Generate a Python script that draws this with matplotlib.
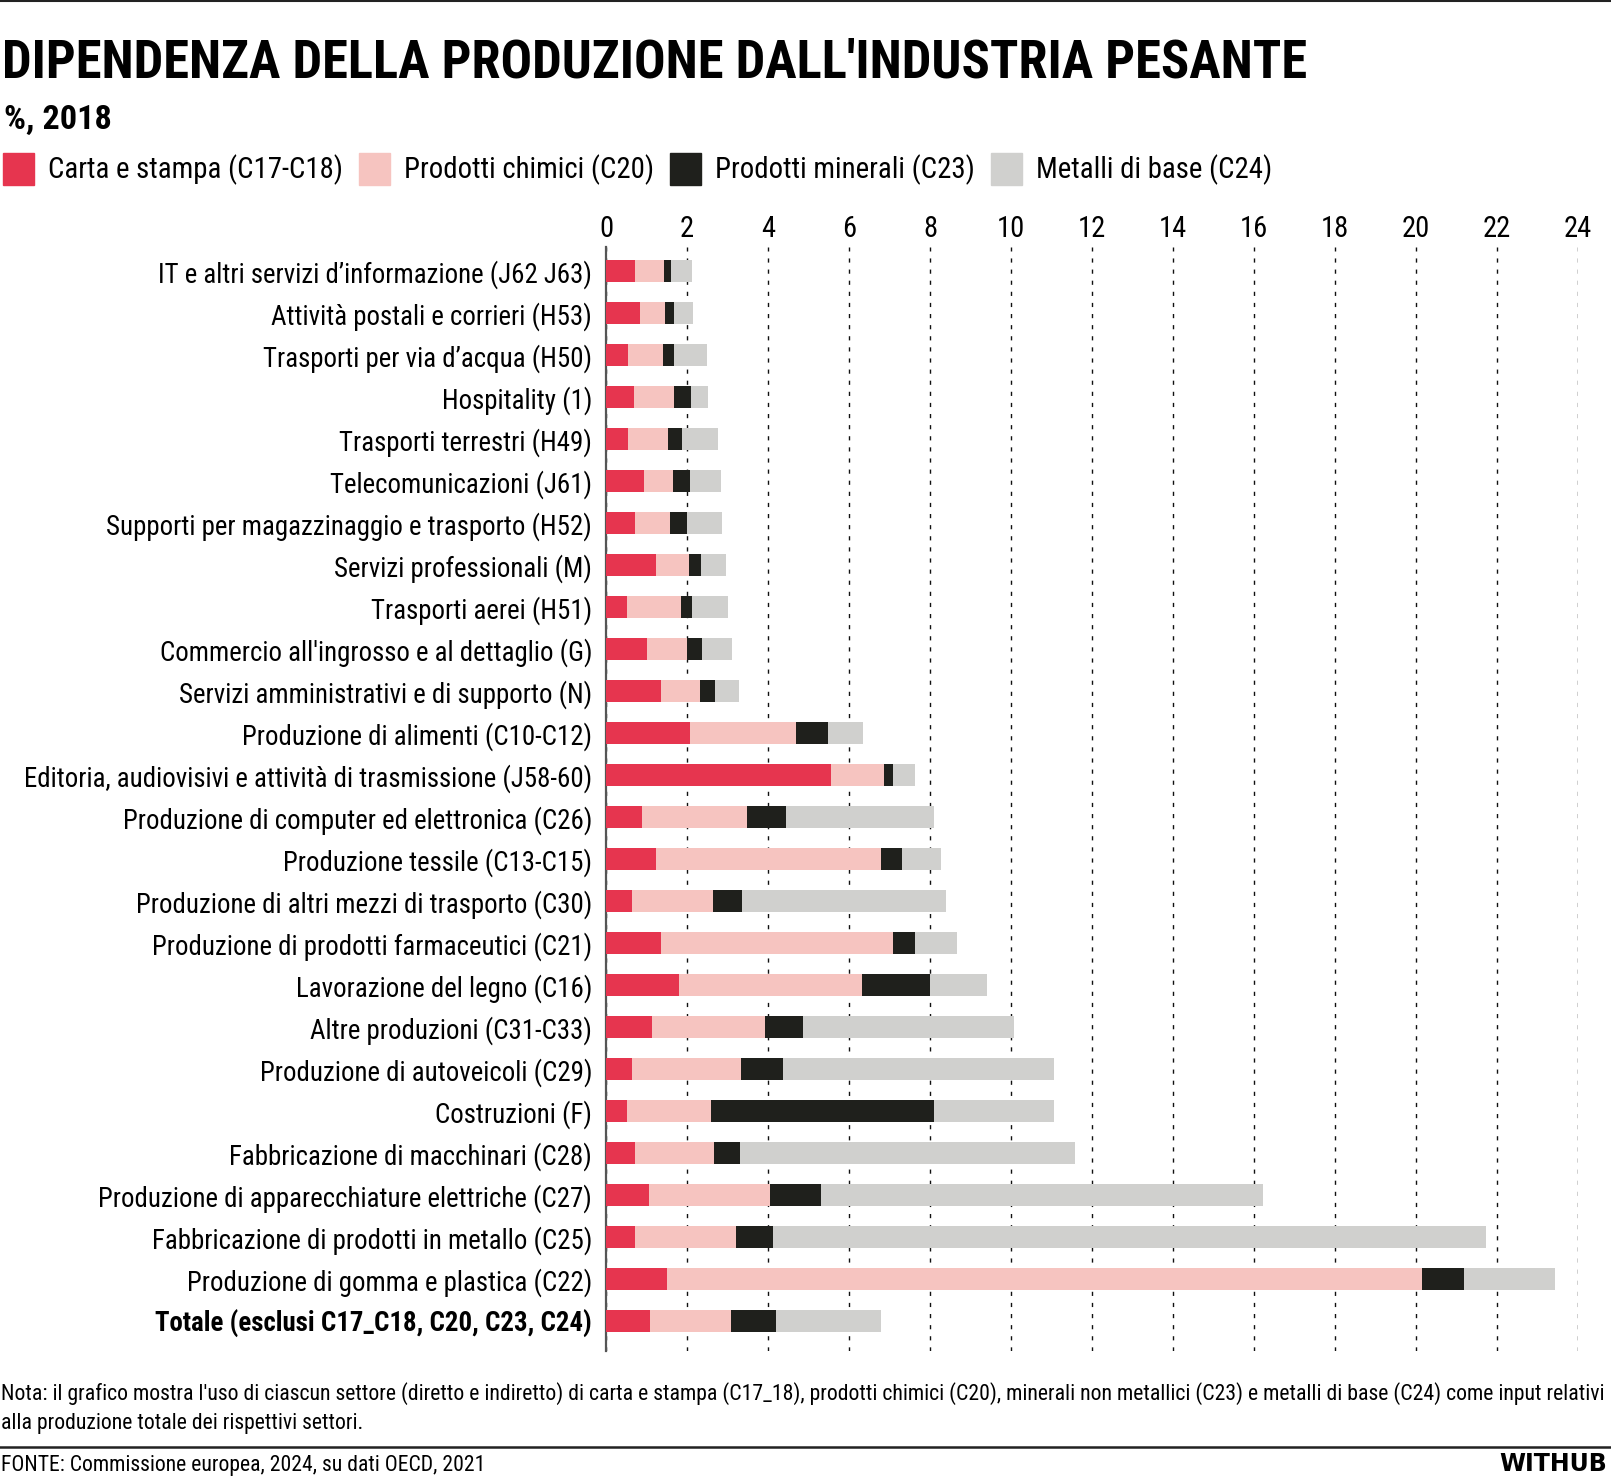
import matplotlib
matplotlib.use("Agg")
import matplotlib.pyplot as plt
from matplotlib import font_manager as fm
from matplotlib.lines import Line2D
from matplotlib.patches import Rectangle
import numpy as np

W, H = 1611, 1478

# dati (% , 2018)
categorie = [
    "IT e altri servizi d\u2019informazione (J62 J63)",
    "Attività postali e corrieri (H53)",
    "Trasporti per via d\u2019acqua (H50)",
    "Hospitality (1)",
    "Trasporti terrestri (H49)",
    "Telecomunicazioni (J61)",
    "Supporti per magazzinaggio e trasporto (H52)",
    "Servizi professionali (M)",
    "Trasporti aerei (H51)",
    "Commercio all'ingrosso e al dettaglio (G)",
    "Servizi amministrativi e di supporto (N)",
    "Produzione di alimenti (C10-C12)",
    "Editoria, audiovisivi e attività di trasmissione (J58-60)",
    "Produzione di computer ed elettronica (C26)",
    "Produzione tessile (C13-C15)",
    "Produzione di altri mezzi di trasporto (C30)",
    "Produzione di prodotti farmaceutici (C21)",
    "Lavorazione del legno (C16)",
    "Altre produzioni (C31-C33)",
    "Produzione di autoveicoli (C29)",
    "Costruzioni (F)",
    "Fabbricazione di macchinari (C28)",
    "Produzione di apparecchiature elettriche (C27)",
    "Fabbricazione di prodotti in metallo (C25)",
    "Produzione di gomma e plastica (C22)",
    "Totale (esclusi C17_C18, C20, C23, C24)",
]
carta = [0.72, 0.83, 0.54, 0.70, 0.54, 0.95, 0.72, 1.23, 0.52, 1.02, 1.37, 2.08, 5.56,
         0.89, 1.23, 0.63, 1.37, 1.81, 1.14, 0.63, 0.53, 0.72, 1.07, 0.72, 1.50, 1.08]
chimici = [0.70, 0.63, 0.87, 0.98, 0.98, 0.70, 0.87, 0.83, 1.32, 0.97, 0.94, 2.61, 1.30,
           2.59, 5.55, 2.00, 5.71, 4.51, 2.79, 2.70, 2.07, 1.94, 2.98, 2.48, 18.65, 2.01]
minerali = [0.19, 0.23, 0.28, 0.41, 0.36, 0.42, 0.40, 0.29, 0.29, 0.39, 0.39, 0.78, 0.22,
            0.97, 0.53, 0.73, 0.56, 1.67, 0.93, 1.04, 5.49, 0.66, 1.25, 0.93, 1.03, 1.11]
metalli = [0.51, 0.47, 0.81, 0.44, 0.89, 0.78, 0.87, 0.62, 0.89, 0.74, 0.59, 0.88, 0.55,
           3.64, 0.96, 5.03, 1.02, 1.42, 5.21, 6.68, 2.98, 8.27, 10.91, 17.60, 2.25, 2.60]

serie = ["Carta e stampa (C17-C18)", "Prodotti chimici (C20)",
         "Prodotti minerali (C23)", "Metalli di base (C24)"]
colori = ["#E6354F", "#F6C4C0", "#1F201C", "#D0D0CE"]
valori = [carta, chimici, minerali, metalli]
xticks = list(range(0, 25, 2))


def scegli_font():
    # un carattere stretto se c'è, altrimenti il più vicino
    entries = fm.fontManager.ttflist
    names = {f.name for f in entries}
    for n in ["Liberation Sans Narrow", "Roboto Condensed", "Open Sans Condensed",
              "PT Sans Narrow", "Arial Narrow", "DejaVu Sans Condensed"]:
        if n in names:
            return n, "normal"
    for n in ["Noto Sans", "Open Sans", "Roboto", "DejaVu Sans"]:
        for f in entries:
            if f.name == n and "condensed" in str(f.stretch):
                return n, "condensed"
    for n in ["Roboto", "Lato", "Noto Sans"]:
        if n in names:
            return n, "normal"
    return "DejaVu Sans", "normal"


fam, stretch = scegli_font()
plt.rcParams["font.family"] = [fam, "DejaVu Sans"]
plt.rcParams["font.stretch"] = stretch


def fx(x):
    return x / W


def fy(y):
    return 1 - y / H


def adatta(t, larghezza):
    # scala il corpo del testo fino alla larghezza del riferimento
    fs = t.get_fontsize()
    w = t.get_window_extent(renderer).width
    t.set_fontsize(fs * larghezza / w)
    return t.get_fontsize()


fig = plt.figure(figsize=(W / 100, H / 100), dpi=100)
renderer = fig.canvas.get_renderer()

ax = fig.add_axes([fx(606), fy(1351), (1578 - 606) / W, (1351 - 247) / H])
y = np.arange(len(categorie))
left = np.zeros(len(categorie))
for vals, col in zip(valori, colori):
    ax.barh(y, vals, left=left, height=0.52, color=col, zorder=3)
    left = left + np.array(vals)

ax.set_xlim(0, 24)
ax.set_ylim(25.71, -0.57)
ax.set_xticks(xticks)
ax.xaxis.tick_top()
ax.set_yticks(y)
ax.set_yticklabels(categorie, fontsize=20)
fs_cat = adatta(ax.get_yticklabels()[24], 406)
for lab in ax.get_yticklabels():
    lab.set_fontsize(fs_cat)
ax.get_yticklabels()[-1].set_fontweight("bold")
ax.tick_params(axis="y", length=0, pad=10)
ax.tick_params(axis="x", length=0, pad=3, labelsize=fs_cat * 1.06)
for s in ["top", "right", "bottom"]:
    ax.spines[s].set_visible(False)
ax.spines["left"].set_color("#555555")
ax.spines["left"].set_linewidth(1.6)
ax.grid(axis="x", color="#111111", linestyle=(0, (3, 5)), linewidth=1.0, zorder=1)
ax.set_axisbelow(True)

# titolo, sottotitolo
title = fig.text(fx(2), fy(77), "DIPENDENZA DELLA PRODUZIONE DALL'INDUSTRIA PESANTE",
                 fontsize=50, fontweight="bold", va="baseline", ha="left")
adatta(title, 1308)

sub = fig.text(fx(4), fy(129), "%, 2018", fontsize=25, fontweight="bold", va="baseline")
adatta(sub, 108)

# legenda
t0 = fig.text(0, 0, serie[0], fontsize=20)
fs_leg = adatta(t0, 294)
t0.remove()
xpos = 3
for nome, col in zip(serie, colori):
    fig.patches.append(Rectangle((fx(xpos), fy(185)), 31 / W, 32 / H,
                                 transform=fig.transFigure, color=col))
    t = fig.text(fx(xpos + 45), fy(178), nome, fontsize=fs_leg, va="baseline")
    w = t.get_window_extent(renderer).width
    xpos = xpos + 45 + w + 16

# linee orizzontali
fig.add_artist(Line2D([0, 1], [fy(1), fy(1)], color="#222222", linewidth=1.5,
                      transform=fig.transFigure))
fig.add_artist(Line2D([0, 1], [fy(1447), fy(1447)], color="#222222", linewidth=1.8,
                      transform=fig.transFigure))

# note
nota1 = fig.text(fx(1), fy(1400), "Nota: il grafico mostra l'uso di ciascun settore (diretto e indiretto) "
                 "di carta e stampa (C17_18), prodotti chimici (C20), minerali non metallici (C23) "
                 "e metalli di base (C24) come input relativi", fontsize=15, va="baseline")
fs_nota = adatta(nota1, 1604)
fig.text(fx(1), fy(1429), "alla produzione totale dei rispettivi settori.",
         fontsize=fs_nota, va="baseline")
fonte = fig.text(fx(1), fy(1471), "FONTE: Commissione europea, 2024, su dati OECD, 2021",
                 fontsize=fs_nota, va="baseline")
adatta(fonte, 483)
fig.text(fx(1607), fy(1471), "WITHUB", fontsize=17, fontweight="heavy",
         family=["DejaVu Sans"], ha="right", va="baseline")

fig.savefig("out.png", dpi=100)
